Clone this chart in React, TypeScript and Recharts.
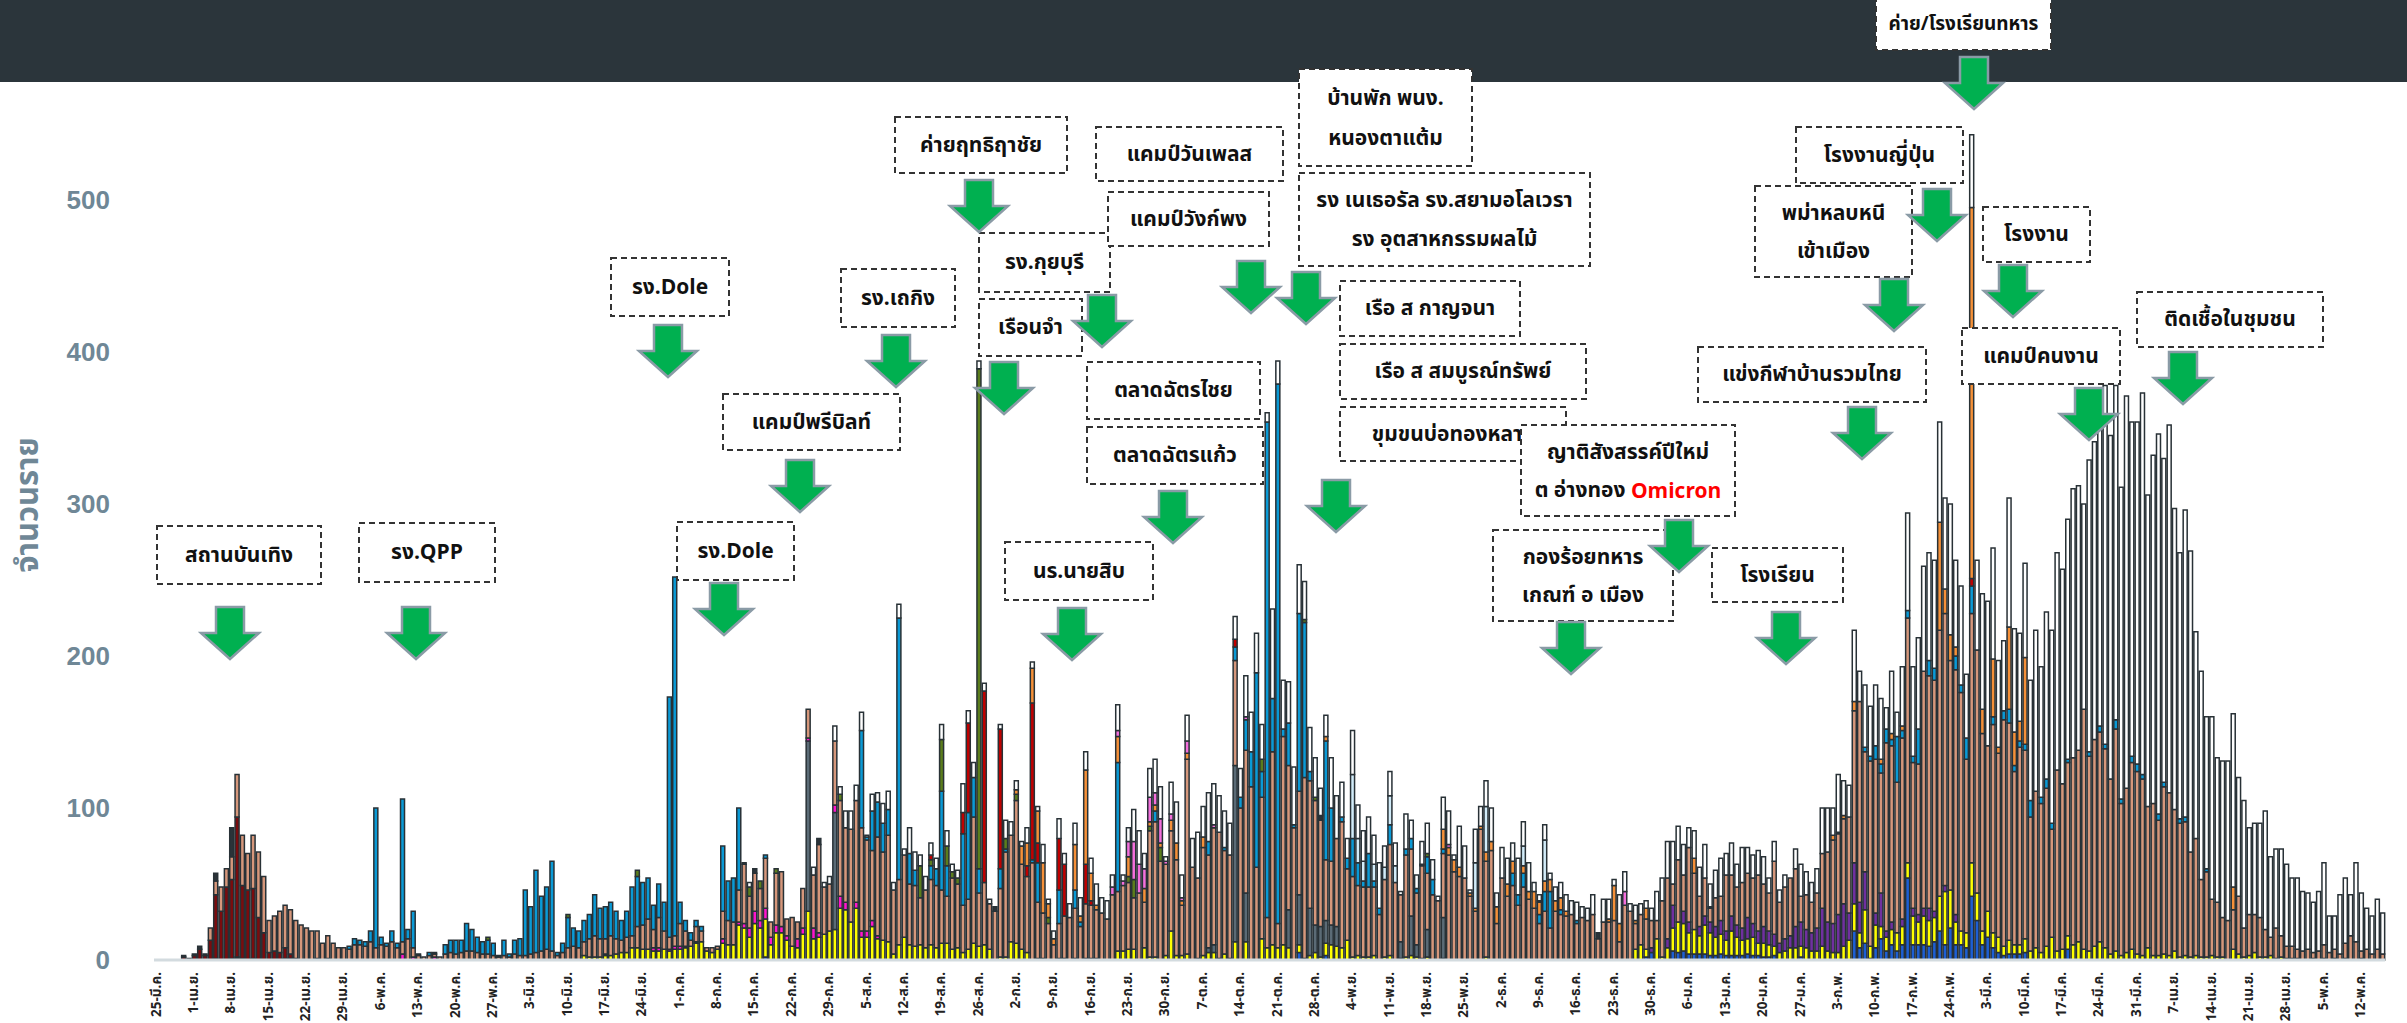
import React from 'react';
import { BarChart, Bar, XAxis, YAxis } from 'recharts';

const W = 2407;
const H = 1023;
const THAI = "'Noto Sans Thai', 'Noto Sans', 'DejaVu Sans', sans-serif";

// weekly tick labels, one every 7 days
const tickLabels = [
  '25-มี.ค.', '1-เม.ย.', '8-เม.ย.', '15-เม.ย.', '22-เม.ย.', '29-เม.ย.', '6-พ.ค.', '13-พ.ค.', '20-พ.ค.', '27-พ.ค.',
  '3-มิ.ย.', '10-มิ.ย.', '17-มิ.ย.', '24-มิ.ย.', '1-ก.ค.', '8-ก.ค.', '15-ก.ค.', '22-ก.ค.', '29-ก.ค.', '5-ส.ค.',
  '12-ส.ค.', '19-ส.ค.', '26-ส.ค.', '2-ก.ย.', '9-ก.ย.', '16-ก.ย.', '23-ก.ย.', '30-ก.ย.', '7-ต.ค.', '14-ต.ค.',
  '21-ต.ค.', '28-ต.ค.', '4-พ.ย.', '11-พ.ย.', '18-พ.ย.', '25-พ.ย.', '2-ธ.ค.', '9-ธ.ค.', '16-ธ.ค.', '23-ธ.ค.',
  '30-ธ.ค.', '6-ม.ค.', '13-ม.ค.', '20-ม.ค.', '27-ม.ค.', '3-ก.พ.', '10-ก.พ.', '17-ก.พ.', '24-ก.พ.', '3-มี.ค.',
  '10-มี.ค.', '17-มี.ค.', '24-มี.ค.', '31-มี.ค.', '7-เม.ย.', '14-เม.ย.', '21-เม.ย.', '28-เม.ย.', '5-พ.ค.', '12-พ.ค.',
];

// daily values, one row per week
const salmon = [
  0, 0, 0, 0, 0, 0, 0,
  0, 0, 0, 8, 9, 16, 12,
  15, 28, 33, 24, 35, 43, 37,
  21, 23, 27, 28, 29, 25, 23,
  21, 19, 18, 11, 15, 11, 8,
  8, 7, 10, 10, 9, 12, 8,
  10, 9, 12, 8, 8, 14, 6,
  3, 2, 3, 2, 2, 4, 5,
  4, 5, 6, 6, 5, 4, 4,
  3, 2, 3, 2, 4, 3, 3,
  4, 5, 6, 7, 6, 3, 5,
  8, 9, 8, 9, 12, 14, 12,
  10, 13, 10, 8, 10, 8, 14,
  16, 20, 12, 20, 12, 8, 7,
  15, 10, 4, 10, 7, 2, 3,
  2, 18, 16, 15, 21, 39, 21,
  25, 21, 33, 10, 34, 36, 11,
  19, 11, 26, 19, 35, 58, 31,
  31, 42, 63, 49, 61, 67, 68,
  60, 46, 65, 58, 70, 42, 43,
  54, 40, 40, 31, 38, 43, 41,
  35, 31, 47, 42, 31, 33, 83,
  35, 41, 30, 32, 45, 69, 70,
  94, 56, 50, 64, 37, 30, 24,
  10, 23, 28, 28, 33, 22, 36,
  35, 32, 31, 27, 43, 39, 43,
  44, 34, 44, 30, 83, 89, 65,
  60, 66, 63, 33, 128, 61, 53,
  71, 61, 77, 83, 68, 68, 69,
  100, 94, 114, 61, 93, 20, 127,
  16, 137, 95, 87, 68, 119, 84,
  82, 70, 40, 42, 58, 83, 47,
  53, 46, 46, 46, 45, 30, 51,
  73, 51, 31, 67, 44, 34, 61,
  37, 43, 39, 42, 69, 58, 55,
  54, 42, 32, 86, 63, 72, 24,
  54, 42, 49, 36, 48, 40, 34,
  24, 32, 21, 32, 30, 29, 30,
  24, 28, 26, 30, 14, 25, 25,
  26, 12, 36, 32, 17, 20, 20,
  18, 12, 37, 40, 14, 41, 24,
  49, 37, 20, 25, 9, 19, 16,
  37, 27, 25, 30, 29, 30, 37,
  28, 25, 48, 27, 34, 38, 38,
  17, 23, 20, 23, 36, 46, 55,
  53, 56, 63, 100, 132, 79, 122,
  101, 79, 124, 116, 99, 119, 161,
  96, 99, 156, 153, 152, 175, 179,
  151, 161, 157, 114, 164, 160, 130,
  109, 137, 121, 149, 143, 114, 130,
  124, 88, 103, 98, 104, 71, 119,
  109, 114, 123, 126, 158, 128, 136,
  138, 131, 115, 146, 100, 108, 123,
  120, 116, 93, 100, 89, 110, 107,
  93, 88, 88, 69, 77, 51, 56,
  37, 36, 26, 26, 26, 38, 19,
  27, 25, 26, 18, 12, 20, 14,
  8, 8, 6, 6, 7, 4, 6,
  9, 5, 6, 4, 10, 16, 12,
  5, 7, 4, 7, 4,
];

const yellow = [
  0, 0, 0, 0, 0, 0, 0,
  0, 0, 0, 0, 0, 0, 0,
  0, 1, 0, 0, 0, 0, 0,
  0, 0, 0, 0, 1, 0, 0,
  0, 0, 1, 0, 1, 0, 0,
  0, 0, 0, 0, 0, 0, 0,
  0, 0, 0, 0, 0, 0, 0,
  0, 0, 0, 0, 0, 0, 0,
  0, 0, 0, 0, 0, 0, 0,
  0, 0, 0, 0, 0, 0, 0,
  0, 0, 0, 0, 0, 0, 0,
  0, 0, 0, 3, 2, 2, 2,
  3, 3, 4, 5, 5, 8, 8,
  7, 7, 6, 6, 7, 6, 7,
  7, 8, 9, 11, 12, 6, 5,
  7, 11, 10, 10, 23, 21, 15,
  24, 21, 25, 10, 18, 18, 13,
  9, 8, 17, 32, 14, 15, 17,
  19, 20, 34, 33, 25, 34, 15,
  15, 22, 14, 13, 12, 4, 10,
  15, 10, 9, 10, 8, 10, 8,
  11, 11, 7, 8, 5, 7, 11,
  9, 10, 7, 0, 2, 2, 12,
  11, 7, 5, 0, 1, 1, 0,
  0, 1, 1, 0, 1, 0, 1,
  1, 1, 0, 0, 0, 6, 6,
  7, 7, 0, 8, 2, 2, 0,
  3, 19, 3, 3, 4, 0, 1,
  3, 5, 5, 1, 4, 1, 12,
  0, 12, 0, 0, 14, 8, 10,
  8, 10, 8, 0, 5, 1, 3,
  5, 2, 8, 10, 9, 8, 13,
  2, 3, 2, 2, 3, 0, 2,
  3, 0, 1, 2, 3, 2, 1,
  2, 0, 0, 1, 0, 0, 0,
  0, 0, 0, 0, 2, 0, 0,
  0, 0, 0, 0, 0, 0, 0,
  0, 0, 0, 0, 0, 0, 0,
  0, 0, 0, 0, 0, 0, 0,
  0, 0, 0, 0, 7, 10, 5,
  0, 14, 2, 8, 15, 20, 18,
  14, 16, 12, 19, 15, 12, 13,
  10, 16, 12, 10, 10, 12, 8,
  9, 8, 6, 5, 6, 8, 8,
  7, 8, 6, 6, 9, 6, 5,
  5, 9, 13, 18, 10, 22, 8,
  15, 8, 9, 10, 12, 12, 10,
  19, 15, 19, 17, 16, 23, 35,
  25, 15, 9, 10, 22, 18, 9,
  17, 10, 10, 6, 9, 6, 6,
  9, 6, 8, 5, 9, 15, 6,
  7, 9, 10, 12, 7, 6, 9,
  12, 8, 4, 6, 3, 5, 7,
  4, 3, 8, 3, 3, 4, 3,
  6, 2, 3, 2, 3, 2, 2,
  3, 2, 2, 0, 7, 4, 2,
  3, 5, 2, 2, 3, 1, 2,
  1, 1, 1, 0, 0, 1, 0,
  1, 0, 1, 0, 1, 0, 0,
  1, 0, 0, 0, 0,
];

const blue = [
  0, 0, 0, 0, 0, 0, 0,
  0, 0, 0, 0, 0, 0, 0,
  0, 0, 0, 0, 0, 0, 0,
  0, 0, 0, 0, 0, 0, 0,
  0, 0, 0, 0, 0, 0, 0,
  0, 2, 4, 3, 3, 7, 92,
  5, 2, 7, 3, 94, 6, 24,
  1, 0, 2, 1, 0, 6, 8,
  9, 8, 18, 14, 10, 8, 9,
  8, 1, 10, 2, 9, 11, 43,
  31, 54, 36, 41, 59, 2, 6,
  20, 12, 11, 14, 16, 27, 20,
  21, 22, 18, 13, 17, 32, 33,
  28, 27, 16, 22, 19, 158, 236,
  14, 7, 5, 4, 3, 0, 0,
  0, 43, 26, 29, 54, 0, 0,
  0, 0, 2, 0, 0, 0, 0,
  0, 0, 0, 0, 0, 0, 0,
  0, 0, 0, 0, 0, 0, 64,
  2, 26, 23, 19, 17, 0, 172,
  0, 20, 10, 0, 0, 9, 11,
  65, 20, 0, 0, 47, 57, 26,
  16, 0, 0, 0, 13, 2, 0,
  0, 0, 0, 2, 26, 0, 0,
  0, 22, 0, 0, 12, 3, 0,
  0, 0, 0, 0, 0, 85, 0,
  0, 0, 0, 0, 0, 7, 0,
  0, 0, 0, 0, 0, 0, 0,
  0, 9, 0, 0, 2, 0, 9,
  7, 20, 23, 128, 17, 326, 35,
  355, 5, 28, 2, 117, 102, 6,
  0, 0, 78, 35, 0, 3, 7,
  25, 15, 4, 22, 4, 4, 0,
  13, 0, 0, 4, 7, 3, 0,
  11, 10, 0, 3, 0, 0, 0,
  0, 0, 0, 0, 0, 0, 0,
  0, 0, 8, 7, 9, 0, 0,
  6, 13, 24, 0, 3, 0, 0,
  2, 0, 0, 0, 0, 0, 0,
  0, 0, 0, 0, 0, 0, 0,
  0, 0, 0, 0, 0, 0, 0,
  0, 0, 0, 0, 0, 0, 0,
  0, 0, 0, 0, 0, 0, 0,
  0, 0, 0, 0, 0, 0, 0,
  0, 0, 0, 0, 0, 0, 0,
  0, 0, 0, 0, 0, 3, 3,
  9, 6, 9, 4, 30, 5, 5,
  4, 23, 0, 10, 8, 0, 0,
  0, 9, 5, 14, 18, 0, 0,
  0, 5, 0, 6, 9, 4, 4,
  4, 11, 0, 4, 6, 4, 0,
  0, 2, 0, 0, 0, 3, 0,
  4, 3, 0, 6, 3, 0, 4,
  5, 3, 0, 0, 4, 3, 0,
  0, 3, 3, 0, 0, 0, 2,
  0, 0, 0, 0, 0, 0, 0,
  0, 0, 0, 0, 0, 0, 0,
  0, 0, 0, 0, 0, 0, 0,
  0, 0, 0, 0, 0, 0, 0,
  0, 0, 0, 0, 0,
];

const white = [
  0, 0, 0, 0, 0, 0, 0,
  0, 0, 0, 0, 0, 0, 0,
  0, 0, 0, 0, 0, 0, 0,
  0, 0, 0, 0, 0, 0, 0,
  0, 0, 0, 0, 0, 0, 0,
  0, 0, 0, 0, 0, 0, 0,
  0, 0, 0, 0, 0, 0, 0,
  0, 0, 0, 0, 0, 0, 0,
  0, 0, 0, 0, 0, 0, 0,
  0, 0, 0, 0, 0, 0, 0,
  0, 0, 0, 0, 0, 0, 0,
  0, 0, 0, 0, 0, 0, 0,
  0, 0, 0, 0, 0, 0, 0,
  0, 0, 0, 0, 0, 0, 0,
  0, 0, 0, 0, 0, 0, 0,
  0, 0, 0, 0, 0, 1, 3,
  0, 0, 0, 0, 0, 0, 0,
  0, 0, 0, 0, 5, 0, 3,
  5, 10, 5, 11, 12, 10, 12,
  1, 11, 6, 13, 12, 5, 9,
  4, 17, 12, 7, 9, 8, 7,
  10, 10, 5, 5, 19, 8, 10,
  5, 5, 3, 0, 3, 12, 9,
  6, 3, 10, 4, 3, 12, 3,
  5, 13, 7, 9, 14, 12, 12,
  10, 14, 10, 12, 8, 17, 4,
  9, 21, 22, 10, 19, 22, 21,
  3, 21, 27, 15, 17, 19, 30,
  20, 32, 27, 24, 24, 21, 15,
  19, 27, 26, 26, 23, 6, 59,
  15, 32, 27, 38, 32, 25, 29,
  26, 18, 14, 33, 28, 23, 13,
  29, 22, 20, 24, 19, 30, 14,
  16, 15, 2, 23, 12, 9, 15,
  20, 13, 3, 21, 22, 3, 27,
  21, 2, 22, 13, 17, 22, 9,
  20, 17, 12, 24, 16, 19, 6,
  4, 10, 4, 9, 10, 11, 9,
  12, 7, 8, 13, 0, 15, 13,
  4, 19, 13, 5, 10, 7, 5,
  8, 19, 15, 24, 28, 22, 20,
  13, 18, 19, 22, 15, 18, 25,
  14, 21, 15, 23, 17, 15, 16,
  18, 10, 13, 8, 8, 0, 13,
  21, 15, 13, 16, 30, 29, 18,
  38, 23, 21, 47, 20, 41, 33,
  40, 40, 14, 41, 16, 39, 64,
  59, 60, 69, 71, 71, 66, 60,
  86, 57, 65, 42, 48, 59, 76,
  95, 73, 57, 46, 85, 68, 58,
  62, 79, 106, 86, 110, 127, 143,
  141, 158, 177, 174, 135, 192, 196,
  208, 236, 226, 220, 205, 258, 220,
  225, 251, 205, 229, 250, 213, 242,
  198, 175, 202, 198, 136, 137, 100,
  120, 95, 103, 105, 114, 78, 84,
  57, 60, 62, 78, 53, 52, 57,
  54, 45, 47, 39, 37, 33, 39,
  54, 24, 22, 39, 43, 27, 52,
  38, 27, 25, 33, 27,
];

// rarer series: day index -> value
const royalBlue: Record<number, number> = {
  114: 2, 214: 5, 219: 3, 279: 2, 280: 5, 284: 6, 285: 5, 286: 6, 287: 4, 288: 4, 289: 4, 290: 4,
  291: 3, 292: 3, 293: 4, 294: 3, 295: 3, 296: 3, 297: 3, 298: 4, 299: 3, 300: 3, 301: 2, 302: 2,
  303: 3, 308: 2, 318: 19, 319: 8, 320: 11, 321: 1, 322: 8, 323: 14, 324: 6, 325: 10, 326: 6,
  327: 10, 328: 54, 329: 10, 330: 10, 331: 10, 332: 9, 333: 12, 334: 19, 335: 10, 336: 21,
  337: 10, 338: 10, 339: 8, 340: 42, 341: 26, 342: 10, 343: 15, 344: 8, 345: 5, 346: 3, 347: 4,
  348: 4, 349: 4, 350: 5, 358: 7,
};
const purple: Record<number, number> = {
  280: 3, 283: 6, 284: 15, 286: 8, 287: 7, 289: 6, 290: 6, 291: 7, 292: 7, 293: 9, 294: 6, 295: 10,
  296: 8, 297: 8, 298: 14, 299: 9, 300: 8, 301: 11, 302: 9, 303: 8, 304: 6, 305: 8, 306: 8,
  307: 14, 308: 16, 309: 12, 310: 12, 311: 15, 312: 25, 313: 19, 314: 19, 315: 25, 316: 28,
  317: 18, 318: 27, 319: 20, 320: 25, 322: 8, 323: 22, 324: 4, 325: 5, 327: 5, 329: 5, 330: 5,
  331: 5, 332: 8, 333: 4, 335: 4, 337: 5,
};
const slateGray: Record<number, number> = {
  122: 112, 127: 77, 197: 3, 198: 5, 202: 116, 204: 32, 212: 25, 214: 33, 216: 31, 217: 18,
  218: 20, 219: 15, 220: 13, 221: 13, 233: 11, 235: 26, 236: 8, 238: 18, 241: 27,
};
const magenta: Record<number, number> = {
  11: 1, 14: 1, 15: 1, 16: 1, 18: 1, 24: 1, 26: 1, 46: 4, 48: 2, 52: 2, 84: 1, 93: 2, 94: 2,
  96: 1, 97: 2, 98: 2, 99: 1, 101: 1, 106: 3, 109: 2, 110: 3, 111: 6, 112: 8, 113: 5, 114: 7,
  115: 5, 116: 5, 117: 4, 118: 3, 120: 6, 121: 4, 122: 2, 123: 7, 124: 3, 127: 5, 128: 8,
  129: 5, 131: 4, 132: 4, 133: 4, 134: 4, 135: 2,
};
const darkRed: Record<number, number> = {
  5: 2, 6: 1, 7: 3, 8: 7, 9: 3, 10: 13, 11: 42, 12: 32, 13: 48, 14: 52, 15: 92, 16: 48,
  17: 46, 18: 46, 19: 28, 20: 18, 21: 5, 22: 6, 23: 5, 24: 7, 25: 3,
};
const olive: Record<number, number> = {
  62: 2, 77: 2, 90: 4, 111: 6, 113: 5, 116: 3, 128: 4, 143: 21, 145: 4, 147: 34, 148: 13,
  149: 4, 150: 4, 154: 329, 159: 7, 161: 4, 167: 4, 182: 4, 183: 12, 186: 3, 188: 9, 207: 8,
  215: 2, 217: 2, 238: 2,
};
const red: Record<number, number> = {
  145: 3, 151: 14, 152: 59, 155: 126, 158: 92, 163: 7, 164: 103, 165: 13, 169: 34, 170: 34,
  174: 26, 175: 3, 202: 5, 340: 5,
};
const orange: Record<number, number> = {
  161: 3, 162: 12, 163: 15, 164: 23, 165: 21, 166: 33, 167: 9, 168: 4, 172: 30, 173: 4, 174: 62,
  175: 18, 176: 3, 180: 17, 182: 13, 185: 9, 186: 3, 187: 4, 188: 3, 190: 7, 191: 11, 192: 3,
  193: 4, 196: 7, 219: 3, 241: 13, 242: 5, 243: 8, 244: 6, 246: 2, 247: 2, 248: 2, 249: 6,
  250: 6, 251: 11, 253: 8, 254: 8, 256: 5, 257: 5, 258: 11, 259: 8, 260: 7, 261: 8, 262: 7,
  263: 8, 264: 3, 272: 2, 273: 23, 274: 12, 277: 2, 279: 7, 288: 10, 291: 1, 314: 3, 316: 2,
  318: 6, 323: 3, 325: 4, 327: 3, 334: 71, 335: 16, 336: 17, 337: 6, 340: 244, 342: 16,
  344: 38, 345: 4, 347: 54, 348: 22, 349: 13, 350: 57, 389: 15,
};
const pink: Record<number, number> = {
  179: 5, 180: 4, 181: 3, 182: 10, 183: 25, 184: 19, 185: 13, 186: 16, 187: 8, 188: 16, 189: 2,
  190: 4, 192: 2, 193: 8, 198: 2, 204: 2, 237: 1, 242: 2, 259: 1, 275: 9, 315: 1,
};
const lightBlue: Record<number, number> = {
  224: 42, 225: 16, 226: 13, 228: 11, 230: 8, 231: 19, 232: 11, 247: 30, 249: 30, 256: 13, 260: 27,
};
const darkSlate: Record<number, number> = {
  5: 1, 7: 1, 8: 2, 9: 1, 11: 5, 14: 19, 112: 3, 124: 4, 157: 3, 218: 3, 270: 4,
};

type Src = number[] | Record<number, number>;
const series: { key: string; fill: string; src: Src }[] = [
  { key: 'rb', fill: '#1d5fd4', src: royalBlue },
  { key: 'ye', fill: '#ffff00', src: yellow },
  { key: 'pu', fill: '#7030a0', src: purple },
  { key: 'sg', fill: '#5b6b76', src: slateGray },
  { key: 'mg', fill: '#ff14cc', src: magenta },
  { key: 'dr', fill: '#7a0c0e', src: darkRed },
  { key: 'sa', fill: '#d6977b', src: salmon },
  { key: 'bl', fill: '#0a9ad6', src: blue },
  { key: 'ol', fill: '#5b7d1c', src: olive },
  { key: 'rd', fill: '#c00000', src: red },
  { key: 'or', fill: '#f59038', src: orange },
  { key: 'pk', fill: '#f46fdc', src: pink },
  { key: 'lb', fill: '#d2ecf9', src: lightBlue },
  { key: 'ds', fill: '#2b3339', src: darkSlate },
  { key: 'wh', fill: '#ffffff', src: white },
];

const data = salmon.map((_, d) => {
  const row: Record<string, number> = { d };
  series.forEach((s) => {
    const v = Array.isArray(s.src) ? s.src[d] : s.src[d];
    row[s.key] = v || 0;
  });
  return row;
});

type Line = string | { text: string; red: string };
type Note = { lines: Line[]; l: number; t: number; r: number; b: number; fs?: number };
const notes: Note[] = [
  { lines: ['สถานบันเทิง'], l: 157, t: 526, r: 321, b: 584 },
  { lines: ['รง.QPP'], l: 359, t: 523, r: 495, b: 582 },
  { lines: ['รง.Dole'], l: 611, t: 258, r: 729, b: 316 },
  { lines: ['รง.Dole'], l: 677, t: 522, r: 794, b: 580 },
  { lines: ['แคมป์พรีบิลท์'], l: 723, t: 394, r: 900, b: 450 },
  { lines: ['รง.เถกิง'], l: 841, t: 269, r: 955, b: 327 },
  { lines: ['ค่ายฤทธิฤาชัย'], l: 895, t: 117, r: 1067, b: 173 },
  { lines: ['เรือนจำ'], l: 979, t: 299, r: 1082, b: 356 },
  { lines: ['รง.กุยบุรี'], l: 979, t: 233, r: 1110, b: 292 },
  { lines: ['ตลาดฉัตรไชย'], l: 1087, t: 362, r: 1260, b: 419 },
  { lines: ['ตลาดฉัตรแก้ว'], l: 1087, t: 427, r: 1263, b: 484 },
  { lines: ['นร.นายสิบ'], l: 1005, t: 542, r: 1153, b: 600 },
  { lines: ['แคมป์วันเพลส'], l: 1096, t: 127, r: 1283, b: 181 },
  { lines: ['แคมป์วังก์พง'], l: 1108, t: 192, r: 1269, b: 246 },
  { lines: ['บ้านพัก พนง.', 'หนองตาแต้ม'], l: 1299, t: 69, r: 1472, b: 166 },
  { lines: ['รง เนเธอรัล รง.สยามอโลเวรา', 'รง อุตสาหกรรมผลไม้'], l: 1299, t: 173, r: 1590, b: 266 },
  { lines: ['เรือ ส กาญจนา'], l: 1340, t: 281, r: 1520, b: 336 },
  { lines: ['เรือ ส สมบูรณ์ทรัพย์'], l: 1340, t: 344, r: 1586, b: 399 },
  { lines: ['ขุมขนบ่อทองหลาง'], l: 1340, t: 407, r: 1566, b: 461 },
  { lines: ['ญาติสังสรรค์ปีใหม่', { text: 'ต อ่างทอง ', red: 'Omicron' }], l: 1521, t: 425, r: 1735, b: 516 },
  { lines: ['กองร้อยทหาร', 'เกณฑ์ อ เมือง'], l: 1493, t: 530, r: 1673, b: 621 },
  { lines: ['โรงเรียน'], l: 1712, t: 548, r: 1843, b: 602 },
  { lines: ['แข่งกีฬาบ้านรวมไทย'], l: 1698, t: 347, r: 1926, b: 402 },
  { lines: ['พม่าหลบหนี', 'เข้าเมือง'], l: 1755, t: 186, r: 1912, b: 277 },
  { lines: ['โรงงานญี่ปุ่น'], l: 1796, t: 127, r: 1963, b: 183 },
  { lines: ['ค่าย/โรงเรียนทหาร'], l: 1876, t: -2, r: 2051, b: 50, fs: 19 },
  { lines: ['โรงงาน'], l: 1983, t: 207, r: 2090, b: 262 },
  { lines: ['แคมป์คนงาน'], l: 1962, t: 328, r: 2120, b: 384 },
  { lines: ['ติดเชื้อในชุมชน'], l: 2137, t: 292, r: 2323, b: 347 },
];

// arrows: centre x, top y
const arrows: [number, number][] = [
  [230, 607], [416, 607], [668, 325], [724, 583], [800, 460], [896, 335], [979, 180], [1004, 362],
  [1102, 295], [1173, 491], [1072, 608], [1251, 261], [1306, 272], [1336, 480], [1679, 520],
  [1571, 622], [1786, 612], [1862, 407], [1894, 279], [1937, 189], [1974, 57], [2013, 265],
  [2089, 388], [2183, 352],
];

const XTick = ({ x, payload }: any) => {
  const label = tickLabels[Math.round(payload.value / 7)] || '';
  return (
    <text
      x={x}
      y={972}
      transform={`rotate(-90 ${x} 972)`}
      textAnchor="end"
      dominantBaseline="central"
      fontSize={13.5}
      fontWeight={700}
      fontFamily={THAI}
      fill="#222"
    >
      {label}
    </text>
  );
};

const YTick = ({ y, payload }: any) => (
  <text
    x={110}
    y={y}
    textAnchor="end"
    dominantBaseline="central"
    fontSize={26}
    fontWeight={700}
    fontFamily="'Liberation Sans', Arial, sans-serif"
    fill="#6f8796"
  >
    {payload.value}
  </text>
);

const Overlay = () => (
  <svg width={W} height={H} style={{ position: 'absolute', left: 0, top: 0, pointerEvents: 'none' }}>
    <text
      x={28}
      y={505}
      transform="rotate(-90 28 505)"
      textAnchor="middle"
      dominantBaseline="central"
      fontSize={31}
      fontWeight={700}
      fontFamily={THAI}
      fill="#6f8796"
    >
      จำนวนราย
    </text>
    {notes.map((n, i) => {
      const h = n.b - n.t;
      const cx = (n.l + n.r) / 2;
      const ys = n.lines.length === 1 ? [n.t + h / 2] : [n.t + h * 0.3, n.t + h * 0.72];
      return (
        <g key={i}>
          <rect
            x={n.l}
            y={n.t}
            width={n.r - n.l}
            height={h}
            fill="#fff"
            stroke="#333"
            strokeWidth={2}
            strokeDasharray="6 4"
          />
          {n.lines.map((ln, j) => (
            <text
              key={j}
              x={cx}
              y={ys[j]}
              textAnchor="middle"
              dominantBaseline="central"
              fontSize={n.fs || 21}
              fontWeight={700}
              fontFamily={THAI}
              fill="#111"
            >
              {typeof ln === 'string' ? ln : (
                <>
                  {ln.text}
                  <tspan fill="#ff0000">{ln.red}</tspan>
                </>
              )}
            </text>
          ))}
        </g>
      );
    })}
    {arrows.map(([cx, t], i) => (
      <polygon
        key={i}
        points={`${cx - 14},${t} ${cx + 14},${t} ${cx + 14},${t + 26} ${cx + 29},${t + 26} ${cx},${t + 52} ${cx - 29},${t + 26} ${cx - 14},${t + 26}`}
        fill="#00b050"
        stroke="#8a9ba6"
        strokeWidth={2.5}
      />
    ))}
  </svg>
);

export default function App() {
  return (
    <div style={{ position: 'absolute', left: 0, top: 0, width: W, height: H, overflow: 'hidden', background: '#fff' }}>
      <div style={{ position: 'absolute', left: 0, top: 0, width: W, height: 82, background: '#2b353b' }} />
      <div style={{ position: 'absolute', left: 0, top: 0 }}>
        <BarChart
          width={W}
          height={H}
          data={data}
          margin={{ top: 48, right: 22, bottom: 0, left: 0 }}
          barSize={4}
        >
          <XAxis
            dataKey="d"
            interval={6}
            height={63}
            tickLine={false}
            axisLine={{ stroke: '#d3dbdf', strokeWidth: 3 }}
            tick={<XTick />}
          />
          <YAxis
            domain={[0, 600]}
            ticks={[0, 100, 200, 300, 400, 500]}
            width={154}
            axisLine={false}
            tickLine={false}
            tick={<YTick />}
          />
          {series.map((s) => (
            <Bar
              key={s.key}
              dataKey={s.key}
              stackId="a"
              fill={s.fill}
              stroke="#283136"
              strokeWidth={1.5}
              isAnimationActive={false}
            />
          ))}
        </BarChart>
      </div>
      <Overlay />
    </div>
  );
}
